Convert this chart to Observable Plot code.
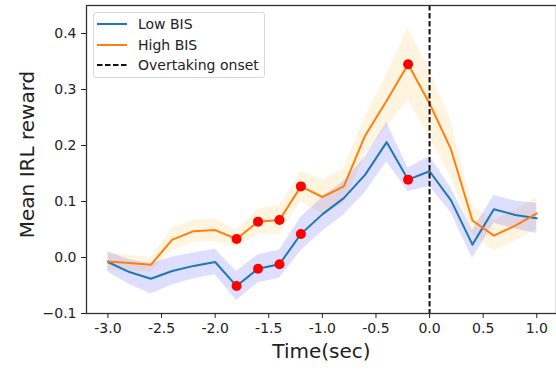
<!DOCTYPE html>
<html>
<head>
<meta charset="utf-8">
<script src="https://cdn.jsdelivr.net/npm/d3@7"></script>
<script src="https://cdn.jsdelivr.net/npm/@observablehq/plot@0.6"></script>
<style>
  html, body { margin: 0; padding: 0; background: #fff; }
  #wrap { position: relative; width: 556px; height: 370px; font-family: "DejaVu Sans", sans-serif; }
  #legend { position: absolute; left: 93px; top: 12px; width: 172px; height: 66px;
    border: 1px solid #d8d8d8; border-radius: 3px; background: rgba(255,255,255,0.85);
    font-size: 14px; color: #222; box-sizing: border-box; }
  .row { position: absolute; left: 0; height: 20px; display: flex; align-items: center; }
  .row svg { margin-left: 3px; margin-right: 11px; }
</style>
</head>
<body>
<div id="wrap"><div id="chart"></div><div id="legend"></div></div>
<script>
// ---- data ----
const time = [-3.0,-2.8,-2.6,-2.4,-2.2,-2.0,-1.8,-1.6,-1.4,-1.2,-1.0,-0.8,-0.6,-0.4,-0.2,0.0,0.2,0.4,0.6,0.8,1.0];
const lowMean  = [-0.008,-0.026,-0.038,-0.024,-0.015,-0.008,-0.051,-0.020,-0.012,0.042,0.077,0.106,0.148,0.206,0.139,0.154,0.102,0.023,0.086,0.076,0.070];
const lowErr   = [0.018,0.022,0.027,0.025,0.023,0.023,0.026,0.025,0.025,0.030,0.030,0.030,0.032,0.035,0.021,0.027,0.022,0.025,0.025,0.025,0.027];
const highMean = [-0.007,-0.010,-0.013,0.032,0.047,0.049,0.033,0.064,0.067,0.127,0.108,0.127,0.218,0.280,0.345,0.275,0.193,0.066,0.039,0.057,0.079];
const highErr  = [0.016,0.014,0.013,0.020,0.020,0.020,0.015,0.022,0.026,0.027,0.030,0.032,0.034,0.047,0.065,0.060,0.050,0.025,0.027,0.028,0.028];
const sigTimes = [-1.8,-1.6,-1.4,-1.2,-0.2];
const xTicks = [-3.0,-2.5,-2.0,-1.5,-1.0,-0.5,0.0,0.5,1.0];
const yTicks = [-0.1,0.0,0.1,0.2,0.3,0.4];
const onset = [0.0];
const seriesNames = ["Low BIS","High BIS","Overtaking onset"];

const lowColor = "#1f77b4", highColor = "#ff7f0e";

const low = time.map((t,i)=>({t, m: lowMean[i], lo: lowMean[i]-lowErr[i], hi: lowMean[i]+lowErr[i]}));
const high = time.map((t,i)=>({t, m: highMean[i], lo: highMean[i]-highErr[i], hi: highMean[i]+highErr[i]}));
const isSig = d => sigTimes.some(s => Math.abs(s - d.t) < 1e-9);

const chart = Plot.plot({
  width: 556, height: 370,
  marginLeft: 86, marginRight: 0, marginTop: 5, marginBottom: 57,
  style: { fontFamily: "DejaVu Sans", fontSize: "14px", color: "#222", background: "#fff" },
  x: { domain: [-3.2, 1.184] },
  y: { domain: [-0.1, 0.45] },
  marks: [
    Plot.areaY(high, { x: "t", y1: "lo", y2: "hi", fill: "#ffa500", fillOpacity: 0.12 }),
    Plot.areaY(low, { x: "t", y1: "lo", y2: "hi", fill: "#0000ff", fillOpacity: 0.13 }),
    Plot.lineY(low, { x: "t", y: "m", stroke: lowColor, strokeWidth: 2 }),
    Plot.lineY(high, { x: "t", y: "m", stroke: highColor, strokeWidth: 2 }),
    Plot.ruleX(onset, { stroke: "#111", strokeWidth: 2, strokeDasharray: "5.5,2.5" }),
    Plot.dot(low.filter(isSig), { x: "t", y: "m", r: 5, fill: "#ff0000", stroke: "none" }),
    Plot.dot(high.filter(isSig), { x: "t", y: "m", r: 5, fill: "#ff0000", stroke: "none" }),
    Plot.frame({ stroke: "#333", strokeWidth: 1.3 }),
    Plot.axisX({ ticks: xTicks, tickFormat: d => d.toFixed(1).replace("−","-"), tickSize: 5, tickPadding: 5, label: null }),
    Plot.axisY({ ticks: yTicks, tickFormat: d => (d < 0 ? "−" : "") + Math.abs(d).toFixed(1), tickSize: 5, tickPadding: 5, label: null }),
    Plot.text(["Time(sec)"], { frameAnchor: "bottom", dy: 44, fontSize: 20, fill: "#222" }),
    Plot.text(["Mean IRL reward"], { frameAnchor: "left", textAnchor: "middle", dx: -59, dy: -5, rotate: -90, fontSize: 20, fill: "#222" })
  ]
});
document.getElementById("chart").appendChild(chart);

// legend
const legend = document.getElementById("legend");
const styles = [
  { color: lowColor, dash: null },
  { color: highColor, dash: null },
  { color: "#111", dash: "5.5,2.5" }
];
seriesNames.forEach((name, i) => {
  const row = document.createElement("div");
  row.className = "row";
  row.style.top = (1 + i * 20.5) + "px";
  const s = styles[i];
  row.innerHTML = `<svg width="30" height="6"><line x1="0" x2="30" y1="3" y2="3" stroke="${s.color}" stroke-width="2" ${s.dash ? `stroke-dasharray="${s.dash}"` : ""}/></svg><span>${name}</span>`;
  legend.appendChild(row);
});
</script>
</body>
</html>
